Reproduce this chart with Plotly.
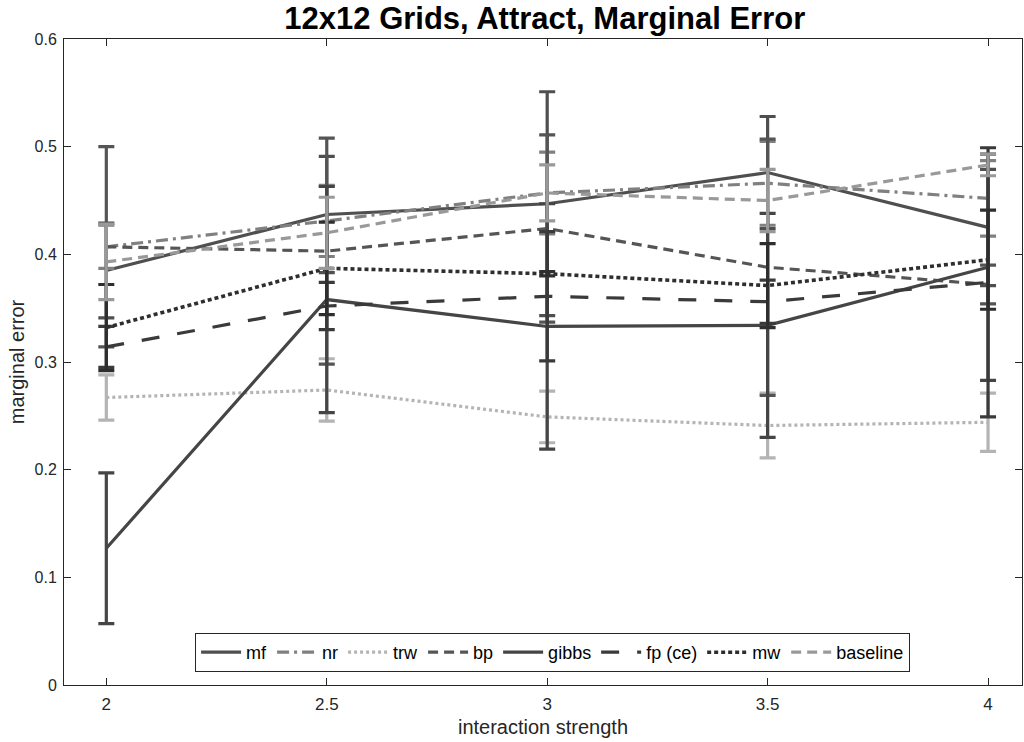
import plotly.graph_objects as go

x = [2, 2.5, 3, 3.5, 4]
series_names = ["mf", "nr", "trw", "bp", "gibbs", "fp (ce)", "mw", "baseline"]

mf = [0.385, 0.437, 0.447, 0.476, 0.425]
mf_err = [0.044, 0.054, 0.104, 0.052, 0.054]
nr = [0.407, 0.431, 0.457, 0.466, 0.452]
nr_err = [0.020, 0.033, 0.038, 0.039, 0.035]
trw = [0.267, 0.274, 0.249, 0.241, 0.244]
trw_err = [0.021, 0.029, 0.024, 0.030, 0.027]
bp = [0.407, 0.403, 0.424, 0.388, 0.372]
bp_err = [0.093, 0.105, 0.087, 0.119, 0.018]
gibbs = [0.127, 0.358, 0.333, 0.334, 0.388]
gibbs_err = [0.070, 0.105, 0.114, 0.104, 0.105]
fp_ce = [0.314, 0.352, 0.361, 0.356, 0.374]
fp_ce_err = [0.019, 0.022, 0.060, 0.020, 0.125]
mw = [0.332, 0.387, 0.382, 0.371, 0.395]
mw_err = [0.040, 0.043, 0.002, 0.039, 0.046]
baseline = [0.393, 0.420, 0.457, 0.450, 0.483]
baseline_err = [0.035, 0.033, 0.026, 0.029, 0.010]

x_ticks = [2, 2.5, 3, 3.5, 4]
x_ticklabels = ["2", "2.5", "3", "3.5", "4"]
y_ticks = [0, 0.1, 0.2, 0.3, 0.4, 0.5, 0.6]
y_ticklabels = ["0", "0.1", "0.2", "0.3", "0.4", "0.5", "0.6"]

values = [mf, nr, trw, bp, gibbs, fp_ce, mw, baseline]
errors = [mf_err, nr_err, trw_err, bp_err, gibbs_err, fp_ce_err, mw_err, baseline_err]
colors = ["#4f4f4f", "#808080", "#b4b4b4", "#555555", "#454545", "#3a3a3a", "#2e2e2e", "#999999"]
dashes = ["solid", "12px,5px,3px,5px", "3px,3px", "10px,6px", "solid", "18px,18px", "4px,3px", "10px,6px"]
widths = [3.2, 3.2, 3.2, 3.2, 3.2, 3.2, 3.6, 3.2]

fig = go.Figure()
for name, v, e, c, d, w in zip(series_names, values, errors, colors, dashes, widths):
    fig.add_trace(go.Scatter(
        x=x, y=v, name=name, mode="lines",
        line=dict(color=c, dash=d, width=w),
        error_y=dict(type="data", array=e, visible=True, color=c, thickness=3.2, width=8),
    ))

axis_color = "#262626"
fig.update_layout(
    width=1024, height=742,
    margin=dict(l=64, r=2, t=39, b=57),
    paper_bgcolor="white", plot_bgcolor="white",
    font=dict(family="Liberation Sans, Arial, sans-serif", size=16, color=axis_color),
    title=dict(text="<b>12x12 Grids, Attract, Marginal Error</b>", x=0.532, xanchor="center",
               y=1 - 18 / 742, yanchor="middle", yref="container",
               font=dict(size=31, color="black", family="Liberation Sans, Arial, sans-serif")),
    showlegend=True,
    legend=dict(orientation="h", x=0.510, xanchor="center", y=(685 - 633) / 646, yanchor="top",
                bordercolor=axis_color, borderwidth=1, bgcolor="white",
                font=dict(size=18, color="black"), traceorder="normal",
                itemwidth=40, tracegroupgap=0),
    xaxis=dict(range=[1.904, 4.077], tickmode="array", tickvals=x_ticks, ticktext=x_ticklabels,
               ticks="inside", ticklen=7, tickcolor=axis_color, showline=True, linecolor=axis_color,
               linewidth=1, mirror="ticks", showgrid=False, zeroline=False,
               title=dict(text="interaction strength", font=dict(size=20), standoff=6),
               tickfont=dict(size=17), ticklabelstandoff=4),
    yaxis=dict(range=[0, 0.6], tickmode="array", tickvals=y_ticks, ticktext=y_ticklabels,
               ticks="inside", ticklen=7, tickcolor=axis_color, showline=True, linecolor=axis_color,
               linewidth=1, mirror="ticks", showgrid=False, zeroline=False,
               title=dict(text="marginal error", font=dict(size=20), standoff=4),
               tickfont=dict(size=16), ticklabelstandoff=3),
)

fig.write_html("out.html")
